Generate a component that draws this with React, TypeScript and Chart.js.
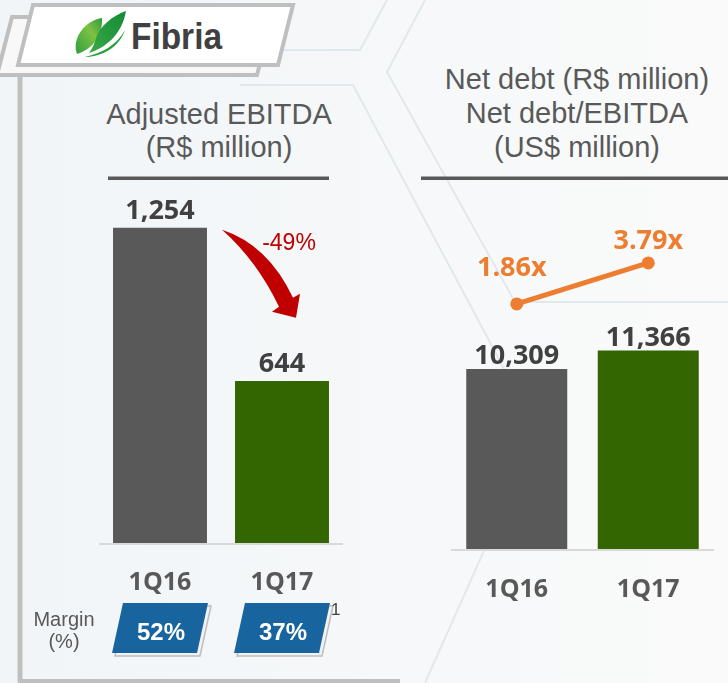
import React, { useEffect, useRef } from "react";
import { Chart, registerables } from "chart.js";

Chart.register(...registerables);

// ---------- data ----------
const ebitdaCategories = ["1Q16", "1Q17"];
const ebitdaValues = [1254, 644];
const marginValues = [52, 37];
const debtCategories = ["1Q16", "1Q17"];
const netDebtValues = [10309, 11366];
const leverageValues = [1.86, 3.79];

// ---------- styles ----------
const GRAY = "#595959";
const GREEN = "#336600";
const ORANGE = "#ED7D31";
const BLUE = "#17649F";
const RED = "#C00000";
const DARK = "#404040";
const W = 728;
const H = 683;
const SANS = "'Liberation Sans', Arial, sans-serif";
const BOLD = "'Open Sans', 'Liberation Sans', sans-serif";
const leverageLabelOffsets = [
  [-5, -28],
  [0, -14],
];

const fmt = (v: number) => String(v).replace(/\B(?=(\d{3})+(?!\d))/g, ",");

const ebitdaPlugin = {
  id: "ebitdaDecor",
  afterDatasetsDraw(chart: any) {
    const ctx = chart.ctx;
    const { left, right, bottom } = chart.chartArea;
    const bars = chart.getDatasetMeta(0).data;
    ctx.save();
    // baseline
    ctx.strokeStyle = "#D9D9D9";
    ctx.lineWidth = 2;
    ctx.beginPath();
    ctx.moveTo(left, bottom + 1);
    ctx.lineTo(right, bottom + 1);
    ctx.stroke();

    ctx.textAlign = "center";
    ctx.textBaseline = "alphabetic";
    bars.forEach((bar: any, i: number) => {
      ctx.font = `bold 27px ${BOLD}`;
      ctx.fillStyle = DARK;
      ctx.fillText(fmt(ebitdaValues[i]), bar.x, bar.y - 9);
      ctx.font = `bold 25px ${BOLD}`;
      ctx.fillStyle = GRAY;
      ctx.fillText(ebitdaCategories[i], bar.x, bottom + 47);

      // margin parallelogram
      const cx = bar.x;
      const top = bottom + 60;
      const hgt = 50;
      const poly = (dx: number, dy: number) => {
        ctx.beginPath();
        ctx.moveTo(cx - 37 + dx, top + dy);
        ctx.lineTo(cx + 48 + dx, top + dy);
        ctx.lineTo(cx + 37 + dx, top + hgt + dy);
        ctx.lineTo(cx - 48 + dx, top + hgt + dy);
        ctx.closePath();
      };
      poly(3, 3);
      ctx.fillStyle = "#F2F2F2";
      ctx.fill();
      ctx.strokeStyle = "#BDBDBD";
      ctx.lineWidth = 1.5;
      ctx.stroke();
      poly(0, 0);
      ctx.fillStyle = BLUE;
      ctx.fill();
      ctx.font = `bold 24px ${SANS}`;
      ctx.fillStyle = "#FFFFFF";
      ctx.textAlign = "center";
      ctx.fillText(`${marginValues[i]}%`, cx + 1, top + 37);
      if (i === bars.length - 1) {
        ctx.font = `17px ${SANS}`;
        ctx.fillStyle = DARK;
        ctx.textAlign = "left";
        ctx.fillText("1", cx + 49, top + 12);
        ctx.textAlign = "center";
      }
      if (i === 0) {
        ctx.font = `20px ${SANS}`;
        ctx.fillStyle = GRAY;
        ctx.fillText("Margin", left - 35, top + 23);
        ctx.fillText("(%)", left - 35, top + 45);
      }
    });

    // curved red arrow
    const b0 = bars[0];
    const b1 = bars[1];
    const ax = b0.x + 62;
    const ay = b0.y + 2;
    ctx.beginPath();
    ctx.moveTo(ax, ay);
    ctx.quadraticCurveTo(ax + 46, ay + 15, ax + 71, ay + 68);
    ctx.lineTo(ax + 78, ay + 64);
    ctx.lineTo(ax + 74, ay + 88);
    ctx.lineTo(ax + 50, ay + 82);
    ctx.lineTo(ax + 57, ay + 77);
    ctx.quadraticCurveTo(ax + 35, ay + 31, ax, ay);
    ctx.closePath();
    ctx.fillStyle = RED;
    ctx.fill();

    const pct = Math.round(((ebitdaValues[1] - ebitdaValues[0]) / ebitdaValues[0]) * 100);
    ctx.font = `23px ${SANS}`;
    ctx.fillStyle = RED;
    ctx.textAlign = "center";
    ctx.fillText(`${pct}%`, b1.x + 7, b0.y + 22);
    ctx.restore();
  },
};

const debtPlugin = {
  id: "debtDecor",
  afterDatasetsDraw(chart: any) {
    const ctx = chart.ctx;
    const { left, right, bottom } = chart.chartArea;
    const bars = chart.getDatasetMeta(0).data;
    const pts = chart.getDatasetMeta(1).data;
    ctx.save();
    ctx.strokeStyle = "#D9D9D9";
    ctx.lineWidth = 2;
    ctx.beginPath();
    ctx.moveTo(left, bottom + 1);
    ctx.lineTo(right, bottom + 1);
    ctx.stroke();
    ctx.textAlign = "center";
    ctx.textBaseline = "alphabetic";
    bars.forEach((bar: any, i: number) => {
      ctx.font = `bold 27px ${BOLD}`;
      ctx.fillStyle = DARK;
      ctx.fillText(fmt(netDebtValues[i]), bar.x, bar.y - 5);
      ctx.font = `bold 25px ${BOLD}`;
      ctx.fillStyle = GRAY;
      ctx.fillText(debtCategories[i], bar.x, bottom + 48);
    });
    pts.forEach((p: any, i: number) => {
      ctx.font = `bold 27px ${BOLD}`;
      ctx.fillStyle = ORANGE;
      const [dx, dy] = leverageLabelOffsets[i];
      ctx.fillText(`${leverageValues[i].toFixed(2)}x`, p.x + dx, p.y + dy);
    });
    ctx.restore();
  },
};

function Decor() {
  const faint = "#E1E9ED";
  return (
    <svg width={W} height={H} style={{ position: "absolute", left: 0, top: 0 }}>
      <defs>
        <linearGradient id="bg" x1="0" y1="0" x2="1" y2="0">
          <stop offset="0" stopColor="#F1F5F8" />
          <stop offset="0.55" stopColor="#F6F8F9" />
          <stop offset="1" stopColor="#FAFAFA" />
        </linearGradient>
        <linearGradient id="leafA" x1="0" y1="1" x2="1" y2="0">
          <stop offset="0" stopColor="#2F9E3F" />
          <stop offset="0.6" stopColor="#7DC242" />
          <stop offset="1" stopColor="#2E9A3C" />
        </linearGradient>
        <linearGradient id="leafB" x1="0" y1="1" x2="1" y2="0">
          <stop offset="0" stopColor="#3BAA45" />
          <stop offset="1" stopColor="#138A37" />
        </linearGradient>
      </defs>
      <rect x={0} y={0} width={W} height={H} fill="url(#bg)" />
      {/* faint background lines */}
      <g stroke={faint} strokeWidth={2} fill="none">
        <polyline points="277,50 360,50 387,0" />
        <polyline points="240,85 353,85 510,380" />
        <polyline points="425,0 387,72 515,302 728,302" />
        <polyline points="520,470 425,683" />
      </g>
      {/* back tab */}
      <polygon points="12,17 272,17 257,75 -3,75" fill="#F8F8F8" stroke="#BFBFBF" strokeWidth={4} />
      {/* front logo box */}
      <polygon points="33,5 293,5 278,65 18,65" fill="#FFFFFF" stroke="#BFBFBF" strokeWidth={4} />
      <path d="M77,54 C71,38 86,20 102,18 C103,35 93,49 77,54 Z" fill="url(#leafA)" />
      <path d="M89,53 C105,48 122,35 126,11 C112,16 100,26 96,38 C94,45 92,49 89,53 Z" fill="url(#leafB)" />
      <path d="M85,57 C101,57 119,48 125,30 C117,45 102,53 85,57 Z" fill="#27A042" />
      <text x={131} y={49} fontFamily={SANS} fontWeight="bold" fontSize={36} fill={DARK} textLength={91} lengthAdjust="spacingAndGlyphs">
        Fibria
      </text>
      {/* frame */}
      <line x1={20} y1={74} x2={20} y2={682} stroke="#BFBFBF" strokeWidth={5} />
      <line x1={18} y1={681} x2={400} y2={681} stroke="#BFBFBF" strokeWidth={4} />
      {/* titles */}
      <g fontFamily={SANS} fontSize={29} fill={GRAY} textAnchor="middle">
        <text x={219} y={124}>Adjusted EBITDA</text>
        <text x={219} y={157}>(R$ million)</text>
        <text x={577} y={89}>Net debt (R$ million)</text>
        <text x={577} y={123}>Net debt/EBITDA</text>
        <text x={577} y={157}>(US$ million)</text>
      </g>
      <rect x={108} y={176.5} width={221} height={3.5} fill={GRAY} />
      <rect x={421} y={176.5} width={307} height={3.5} fill={GRAY} />
    </svg>
  );
}

export default function App() {
  const leftRef = useRef<HTMLCanvasElement>(null);
  const rightRef = useRef<HTMLCanvasElement>(null);

  useEffect(() => {
    const left = new Chart(leftRef.current as HTMLCanvasElement, {
      type: "bar",
      data: {
        labels: ebitdaCategories,
        datasets: [
          {
            data: ebitdaValues,
            backgroundColor: [GRAY, GREEN],
            borderWidth: 0,
            barPercentage: 0.77,
            categoryPercentage: 1,
          },
        ],
      },
      options: {
        responsive: false,
        animation: false,
        devicePixelRatio: 1,
        layout: { padding: { left: 99, right: W - 343, top: 191, bottom: H - 543 } },
        scales: {
          x: { display: false },
          y: { display: false, min: 0, max: 1400 },
        },
        plugins: { legend: { display: false }, tooltip: { enabled: false }, title: { display: false } },
      },
      plugins: [ebitdaPlugin],
    } as any);

    const right = new Chart(rightRef.current as HTMLCanvasElement, {
      type: "bar",
      data: {
        labels: debtCategories,
        datasets: [
          {
            type: "bar",
            data: netDebtValues,
            backgroundColor: [GRAY, GREEN],
            borderWidth: 0,
            barPercentage: 0.768,
            categoryPercentage: 1,
            order: 2,
            yAxisID: "y",
          },
          {
            type: "line",
            data: leverageValues,
            borderColor: ORANGE,
            backgroundColor: ORANGE,
            borderWidth: 5,
            pointRadius: 6.5,
            pointBorderWidth: 0,
            pointBackgroundColor: ORANGE,
            fill: false,
            tension: 0,
            clip: false,
            order: 0,
            yAxisID: "y2",
          },
        ],
      },
      options: {
        responsive: false,
        animation: false,
        devicePixelRatio: 1,
        layout: { padding: { left: 451, right: W - 714, top: 240, bottom: H - 549 } },
        scales: {
          x: { display: false },
          y: { display: false, min: 0, max: 17700 },
          y2: { display: false, min: -9.68, max: 4.87, position: "right" },
        },
        plugins: { legend: { display: false }, tooltip: { enabled: false }, title: { display: false } },
      },
      plugins: [debtPlugin],
    } as any);

    return () => {
      left.destroy();
      right.destroy();
    };
  }, []);

  const cs: React.CSSProperties = { position: "absolute", left: 0, top: 0 };
  return (
    <div style={{ position: "absolute", left: 0, top: 0, width: W, height: H, overflow: "hidden" }}>
      <Decor />
      <canvas ref={leftRef} width={W} height={H} style={cs} />
      <canvas ref={rightRef} width={W} height={H} style={cs} />
    </div>
  );
}
